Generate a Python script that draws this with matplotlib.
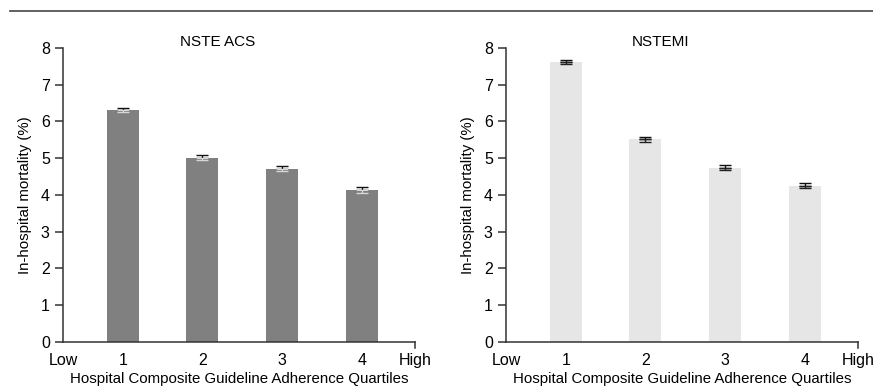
import matplotlib
matplotlib.use("Agg")
import matplotlib.pyplot as plt

plt.rcParams['font.family'] = ['Liberation Sans', 'DejaVu Sans']

quartiles = [1, 2, 3, 4]
tick_labels = ['1', '2', '3', '4']
panels = ['NSTE ACS', 'NSTEMI']
acs_vals = [6.31, 5.01, 4.71, 4.12]
acs_lo = [6.25, 4.96, 4.66, 4.04]
acs_hi = [6.37, 5.08, 4.78, 4.22]
nstemi_vals = [7.63, 5.51, 4.74, 4.25]
nstemi_lo = [7.57, 5.44, 4.69, 4.20]
nstemi_hi = [7.68, 5.58, 4.80, 4.31]
colors = ['#808080', '#e6e6e6']
inner_err = ['#d8d8d8', '#222222']
ylabel = 'In-hospital mortality (%)'
xlabel = 'Hospital Composite Guideline Adherence Quartiles'

fig = plt.figure(figsize=(8.73, 3.87), dpi=100)
fig.add_artist(plt.Line2D([10/873, 1.0], [1 - 11/387, 1 - 11/387], color='#555555', lw=1.3))

xl = (0.25, 4.67)
lefts = [63/873, 506/873]
data = [(acs_vals, acs_lo, acs_hi), (nstemi_vals, nstemi_lo, nstemi_hi)]
for i in range(2):
    ax = fig.add_axes([lefts[i], 45.3/387, 352/873, 293.7/387])
    vals, lo, hi = data[i]
    ax.bar(quartiles, vals, width=0.4, color=colors[i], zorder=1)
    up = [h - v for h, v in zip(hi, vals)]
    dn = [v - l for v, l in zip(vals, lo)]
    ax.errorbar(quartiles, vals, yerr=[[0]*4, up], fmt='none', ecolor='#111111',
                elinewidth=1.0, capsize=4.5, capthick=1.0, zorder=3)
    ax.errorbar(quartiles, vals, yerr=[dn, [0]*4], fmt='none', ecolor=inner_err[i],
                elinewidth=1.0, capsize=4.5, capthick=1.0, zorder=3)
    ax.set_xlim(*xl)
    ax.set_ylim(0, 8)
    ax.set_yticks(range(0, 9))
    ax.set_xticks([xl[0]] + quartiles + [xl[1]])
    ax.set_xticklabels(['Low'] + tick_labels + ['High'])
    ax.tick_params(axis='x', length=0, pad=8, labelsize=11.5)
    ax.tick_params(axis='y', length=6, width=1.1, labelsize=11.5, color='#333333')
    ax.plot([xl[1], xl[1]], [0, -0.17], color='#333333', lw=1.1, clip_on=False)
    for s in ['top', 'right']:
        ax.spines[s].set_visible(False)
    for s in ['left', 'bottom']:
        ax.spines[s].set_linewidth(1.1)
        ax.spines[s].set_color('#333333')
    ax.set_xlabel(xlabel, fontsize=10.8, labelpad=3)
    ax.set_ylabel(ylabel, fontsize=10.8, labelpad=6)
    ax.text(0.44, 1.02, panels[i], transform=ax.transAxes, ha='center', va='center', fontsize=11)

fig.savefig('out.png', dpi=100)
